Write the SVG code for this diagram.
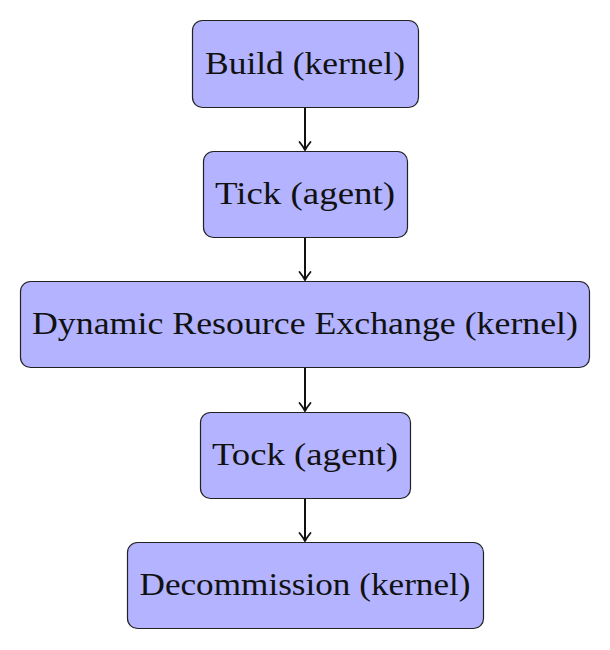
<svg xmlns="http://www.w3.org/2000/svg" width="610" height="650" viewBox="0 0 610 650">
<style>
.box{fill:#b3b3ff;stroke:#222;stroke-width:1.2}
.t{font-family:"Liberation Serif",serif;font-size:32px;fill:#111;text-anchor:middle}
.c{stroke:#111;stroke-width:2;fill:none}
.ah{stroke:#111;stroke-width:1.8;fill:none;stroke-linecap:round;stroke-linejoin:round}
</style>
<defs>
<path id="head" class="ah" d="M-5.5,-8 Q-1.5,-3 0,0 Q1.5,-3 5.5,-8"/>
</defs>
<g id="n1"><rect class="box" x="192.5" y="20.5" width="226" height="87" rx="10"/><text class="t" x="305" y="73.5" textLength="200" lengthAdjust="spacingAndGlyphs">Build (kernel)</text></g>
<g id="n2"><rect class="box" x="203.5" y="151.5" width="204" height="86" rx="10"/><text class="t" x="305" y="204" textLength="180" lengthAdjust="spacingAndGlyphs">Tick (agent)</text></g>
<g id="n3"><rect class="box" x="20.5" y="281.5" width="569" height="86" rx="10"/><text class="t" x="305" y="334" textLength="546" lengthAdjust="spacingAndGlyphs">Dynamic Resource Exchange (kernel)</text></g>
<g id="n4"><rect class="box" x="200.5" y="412.5" width="210" height="86" rx="10"/><text class="t" x="305" y="465" textLength="186" lengthAdjust="spacingAndGlyphs">Tock (agent)</text></g>
<g id="n5"><rect class="box" x="127.5" y="542.5" width="356" height="86" rx="10"/><text class="t" x="305" y="595" textLength="331" lengthAdjust="spacingAndGlyphs">Decommission (kernel)</text></g>
<g id="connectors">
<line class="c" x1="305" y1="108" x2="305" y2="150"/><use href="#head" x="305" y="150"/>
<line class="c" x1="305" y1="238" x2="305" y2="280"/><use href="#head" x="305" y="280"/>
<line class="c" x1="305" y1="368" x2="305" y2="411"/><use href="#head" x="305" y="411"/>
<line class="c" x1="305" y1="499" x2="305" y2="541"/><use href="#head" x="305" y="541"/>
</g>
</svg>
